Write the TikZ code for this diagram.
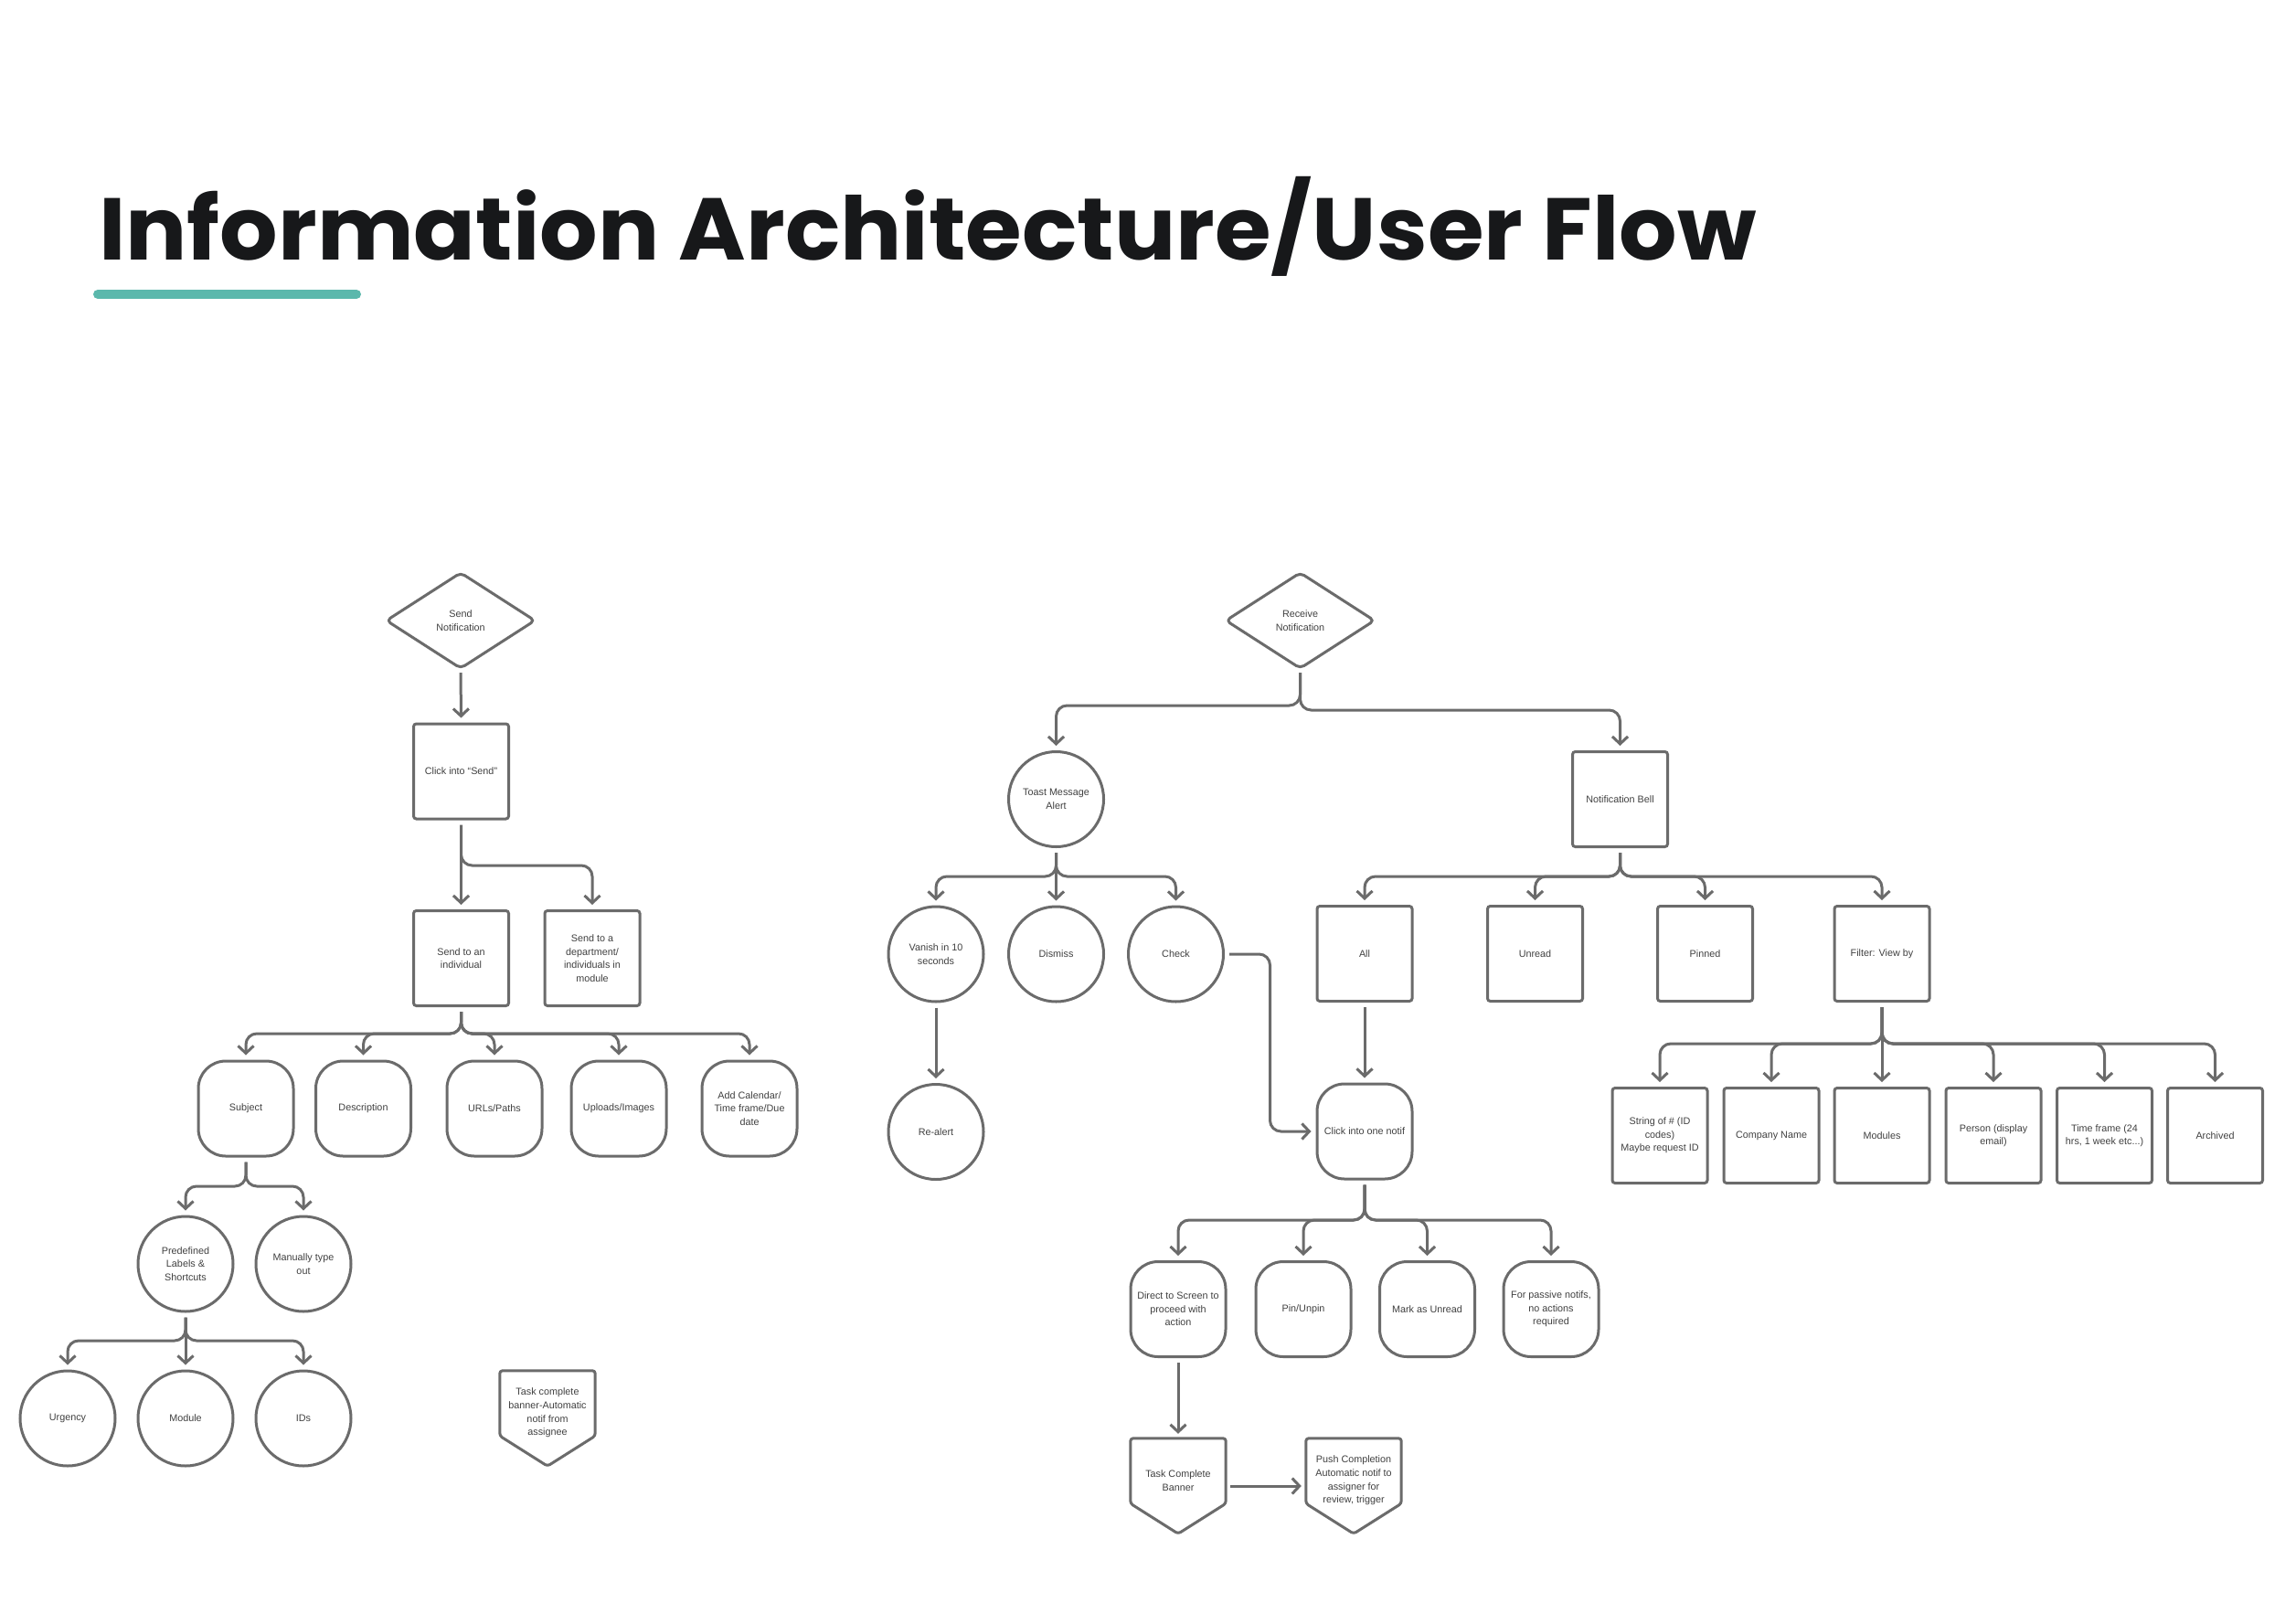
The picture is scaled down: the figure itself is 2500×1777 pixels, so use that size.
\documentclass[tikz,border=0pt]{standalone}
\usepackage{fontspec}
\usepackage{graphicx}
\setmainfont{Liberation Sans}
\newfontfamily\titlefont{Poppins}
\usetikzlibrary{arrows.meta,calc}
\definecolor{linegray}{HTML}{6B6B6B}
\definecolor{txtgray}{HTML}{404040}
\definecolor{titleblack}{HTML}{17181A}
\definecolor{accentteal}{HTML}{5BB8AC}
\newcommand\iafork[3]{\draw[conn] (#1.south) -- (#1.south |- 0,#3) -| (#2.north);}
\newcommand\iastraight[2]{\draw[conn] (#1) -- (#2);}
\newcommand\iapent[1]{\draw[shapeline] (#1.north west) -- (#1.north east) -- ([yshift=33pt]#1.south east) -- (#1.south) -- ([yshift=33pt]#1.south west) -- cycle;}
\newcommand\iadiamond[1]{\draw[shapeline, rounded corners=5pt] (#1.north) -- (#1.east) -- (#1.south) -- (#1.west) -- cycle;}
\begin{document}
\begin{tikzpicture}[x=1pt,y=-1pt,
  every node/.style={font=\fontsize{10.8}{14.6}\selectfont, text=txtgray, align=center, inner sep=0pt},
  box/.style={draw=linegray, line width=3pt, minimum width=104pt, minimum height=104pt, rounded corners=3pt},
  soft/.style={draw=linegray, line width=3pt, minimum width=104pt, minimum height=104pt, rounded corners=30pt},
  circ/.style={draw=linegray, line width=3pt, circle, minimum size=104pt},
  ghost/.style={minimum width=104pt, minimum height=104pt},
  dia/.style={minimum width=162pt, minimum height=104pt},
  shapeline/.style={draw=linegray, line width=3pt, line join=round, rounded corners=3pt},
  conn/.style={draw=linegray, line width=3pt, rounded corners=12pt, -{Straight Barb[length=8pt,width=17pt]}, shorten <=5pt, shorten >=5pt},
]
\fill[white] (0,0) rectangle (2500,1777);
\useasboundingbox (0,0) rectangle (2500,1777);

% title
\node[anchor=base west, font=\titlefont\bfseries\fontsize{96}{100}\selectfont, text=titleblack] (title) at (108,284) {\scalebox{1.04}[1]{Information Architecture/User Flow}};
\draw[accentteal, line width=10pt, line cap=round] (107,322) -- (390,322);

% ---------- left tree ----------
\node[dia] (send) at (504,679) {Send\\Notification};
\iadiamond{send}
\node[box] (clicksend) at (504.5,844) {Click into “Send”};
\node[box] (indiv) at (504.5,1048.5) {Send to an\\individual};
\node[box] (dept) at (648,1048.5) {Send to a\\department/\\individuals in\\module};
\node[soft] (subject) at (269,1213) {Subject};
\node[soft] (desc) at (397.5,1213) {Description};
\node[soft] (urls) at (541,1213) {URLs/Paths};
\node[soft] (uploads) at (677,1213) {Uploads/Images};
\node[soft] (addcal) at (820,1213) {Add Calendar/\\Time frame/Due\\date};
\node[circ] (predef) at (203,1383) {Predefined\\Labels \&\\Shortcuts};
\node[circ] (manual) at (332,1383) {Manually type\\out};
\node[circ] (urgency) at (74,1552) {Urgency};
\node[circ] (module) at (203,1552) {Module};
\node[circ] (ids) at (332,1552) {IDs};
\node[ghost] (tcbanner) at (599,1552) {};
\iapent{tcbanner}
\node (tcbannertext) at ([yshift=6pt]tcbanner.center) {Task complete\\banner-Automatic\\notif from\\assignee};

\iastraight{send.south}{clicksend.north}
\iastraight{clicksend.south}{indiv.north}
\iafork{clicksend}{dept}{947}
\iafork{indiv}{subject}{1131}
\iafork{indiv}{desc}{1131}
\iafork{indiv}{urls}{1131}
\iafork{indiv}{uploads}{1131}
\iafork{indiv}{addcal}{1131}
\iafork{subject}{predef}{1298}
\iafork{subject}{manual}{1298}
\iafork{predef}{urgency}{1467}
\iastraight{predef.south}{module.north}
\iafork{predef}{ids}{1467}

% ---------- right tree ----------
\node[dia] (recv) at (1422.5,679) {Receive\\Notification};
\iadiamond{recv}
\node[circ] (toast) at (1155.5,874.5) {Toast Message\\Alert};
\node[box] (bell) at (1772.5,874.5) {Notification Bell};
\node[circ] (vanish) at (1024,1044) {Vanish in 10\\seconds};
\node[circ] (dismiss) at (1155.5,1044) {Dismiss};
\node[circ] (check) at (1286.5,1044) {Check};
\node[circ] (realert) at (1024,1238.5) {Re-alert};
\node[box] (all) at (1493,1043.5) {All};
\node[box] (unread) at (1679.5,1043.5) {Unread};
\node[box] (pinned) at (1865.5,1043.5) {Pinned};
\node[box] (filter) at (2059,1043.5) {Filter: View by};
\node[box] (fone) at (1816,1242.5) {String of \# (ID\\codes)\\Maybe request ID};
\node[box] (ftwo) at (1938,1242.5) {Company Name};
\node[box] (fthree) at (2059,1242.5) {Modules};
\node[box] (ffour) at (2181,1242.5) {Person (display\\email)};
\node[box] (ffive) at (2302.5,1242.5) {Time frame (24\\hrs, 1 week etc...)};
\node[box] (fsix) at (2423.5,1242.5) {Archived};
\node[soft] (clickone) at (1493,1238) {Click into one notif};
\node[soft] (direct) at (1289,1432.5) {Direct to Screen to\\proceed with\\action};
\node[soft] (pin) at (1426,1432.5) {Pin/Unpin};
\node[soft] (mark) at (1561.5,1432.5) {Mark as Unread};
\node[soft] (passive) at (1697,1432.5) {For passive notifs,\\no actions\\required};
\node[ghost] (taskc) at (1289,1626) {};
\iapent{taskc}
\node (taskctext) at ([yshift=6pt]taskc.center) {Task Complete\\Banner};
\node[ghost] (push) at (1481,1626) {};
\iapent{push}
\node (pushtext) at ([yshift=6pt]push.center) {Push Completion\\Automatic notif to\\assigner for\\review, trigger};

\iafork{recv}{toast}{772}
\iafork{recv}{bell}{777}
\iafork{toast}{vanish}{959}
\iastraight{toast.south}{dismiss.north}
\iafork{toast}{check}{959}
\iastraight{vanish.south}{realert.north}
\iafork{bell}{all}{959}
\iafork{bell}{unread}{959}
\iafork{bell}{pinned}{959}
\iafork{bell}{filter}{959}
\iafork{filter}{fone}{1142}
\iafork{filter}{ftwo}{1142}
\iastraight{filter.south}{fthree.north}
\iafork{filter}{ffour}{1142}
\iafork{filter}{ffive}{1142}
\iafork{filter}{fsix}{1142}
\iastraight{all.south}{clickone.north}
\draw[conn] (check.east) -| ([xshift=-50pt]clickone.west) -- (clickone.west);
\iafork{clickone}{direct}{1335}
\iafork{clickone}{pin}{1335}
\iafork{clickone}{mark}{1335}
\iafork{clickone}{passive}{1335}
\iastraight{direct.south}{taskc.north}
\iastraight{taskc.east}{push.west}
\end{tikzpicture}
\end{document}
